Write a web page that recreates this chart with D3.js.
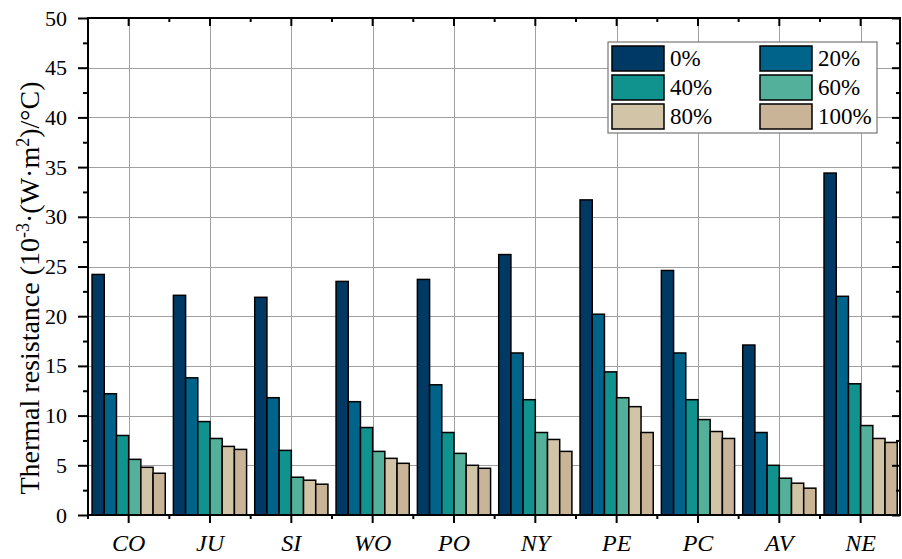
<!DOCTYPE html>
<html>
<head>
<meta charset="utf-8">
<script src="https://cdn.jsdelivr.net/npm/d3@7/dist/d3.min.js"></script>
<style>
  html, body { margin: 0; padding: 0; background: #fff; }
  svg { display: block; }
  svg text { font-family: "Liberation Serif", "Times New Roman", serif; }
</style>
</head>
<body>
<svg id="chart" width="902" height="559"></svg>
<script>
// Thermal resistance per fabric, for each moisture level
const categories = ["CO", "JU", "SI", "WO", "PO", "NY", "PE", "PC", "AV", "NE"];
const seriesNames = ["0%", "20%", "40%", "60%", "80%", "100%"];
const seriesColors = ["#003a64", "#00638a", "#10928f", "#53b09b", "#d1c4a7", "#cab498"];

const s0   = [24.2, 22.1, 21.9, 23.5, 23.7, 26.2, 31.7, 24.6, 17.1, 34.4];
const s20  = [12.2, 13.8, 11.8, 11.4, 13.1, 16.3, 20.2, 16.3,  8.3, 22.0];
const s40  = [ 8.0,  9.4,  6.5,  8.8,  8.3, 11.6, 14.4, 11.6,  5.0, 13.2];
const s60  = [ 5.6,  7.7,  3.8,  6.4,  6.2,  8.3, 11.8,  9.6,  3.7,  9.0];
const s80  = [ 4.8,  6.9,  3.5,  5.7,  5.0,  7.6, 10.9,  8.4,  3.2,  7.7];
const s100 = [ 4.2,  6.6,  3.1,  5.2,  4.7,  6.4,  8.3,  7.7,  2.7,  7.3];
const seriesValues = [s0, s20, s40, s60, s80, s100];

const yTicks = [0, 5, 10, 15, 20, 25, 30, 35, 40, 45, 50];
const yMinorTicks = [2.5, 7.5, 12.5, 17.5, 22.5, 27.5, 32.5, 37.5, 42.5, 47.5];

const FONT = "Liberation Serif";
const svg = d3.select("#chart");
const plotLeft = 88, plotRight = 900, plotTop = 18, plotBottom = 515;

const x0 = d3.scaleBand().domain(categories).range([plotLeft, 901.3]).paddingInner(0.1).paddingOuter(0.05);
const x1 = d3.scaleBand().domain(seriesNames).range([0, x0.bandwidth()]);
const y = d3.scaleLinear().domain([0, 50]).range([plotBottom, plotTop]);

// grid
const grid = svg.append("g").attr("stroke", "#a0a0a0").attr("stroke-width", 1);
grid.selectAll("line.h").data(yTicks.filter(d => d > 0 && d < 50)).join("line")
  .attr("x1", plotLeft).attr("x2", plotRight)
  .attr("y1", d => Math.round(y(d)) + 0.5).attr("y2", d => Math.round(y(d)) + 0.5);
grid.selectAll("line.v").data(categories).join("line")
  .attr("y1", plotTop).attr("y2", plotBottom)
  .attr("x1", d => Math.round(x0(d) + x0.bandwidth() / 2) + 0.5)
  .attr("x2", d => Math.round(x0(d) + x0.bandwidth() / 2) + 0.5);

// bars
const rows = categories.map((c, i) => ({ cat: c, vals: seriesNames.map((s, j) => ({ s, j, v: seriesValues[j][i] })) }));
const groups = svg.append("g").selectAll("g").data(rows).join("g")
  .attr("transform", d => `translate(${x0(d.cat)},0)`);
groups.selectAll("rect").data(d => d.vals).join("rect")
  .attr("x", d => x1(d.s))
  .attr("width", x1.bandwidth())
  .attr("y", d => y(d.v))
  .attr("height", d => y(0) - y(d.v))
  .attr("fill", d => seriesColors[d.j])
  .attr("stroke", "#000").attr("stroke-width", 1.5);

// axes
const centers = categories.map(c => x0(c) + x0.bandwidth() / 2);
const bounds = d3.range(categories.length + 1).map(i => plotLeft + i * x0.step());

const xAxis = d3.axisBottom(x0).tickSize(8).tickSizeOuter(0);
const gx = svg.append("g").attr("transform", `translate(0,${plotBottom})`).call(xAxis);
gx.attr("font-family", FONT);
gx.select(".domain").remove();
gx.selectAll(".tick line").attr("stroke", "#000").attr("stroke-width", 2);
gx.selectAll(".tick text").attr("font-size", 24).attr("font-style", "italic")
  .attr("font-family", FONT).attr("fill", "#000").attr("y", 36).attr("dy", 0);
svg.append("g").selectAll("line").data(bounds.filter(b => b < plotRight)).join("line")
  .attr("x1", d => d).attr("x2", d => d).attr("y1", plotBottom).attr("y2", plotBottom + 4)
  .attr("stroke", "#000").attr("stroke-width", 2);

// top ticks (inward)
const tk = svg.append("g").attr("stroke", "#000").attr("stroke-width", 2);
tk.selectAll("line.c").data(centers).join("line").attr("class", "c")
  .attr("x1", d => d).attr("x2", d => d).attr("y1", plotTop).attr("y2", plotTop + 8);
tk.selectAll("line.b").data(bounds.filter(b => b > plotLeft && b < plotRight)).join("line").attr("class", "b")
  .attr("x1", d => d).attr("x2", d => d).attr("y1", plotTop).attr("y2", plotTop + 4);

const yAxis = d3.axisLeft(y).tickValues(yTicks).tickSize(10).tickPadding(11).tickSizeOuter(0);
const gy = svg.append("g").attr("transform", `translate(${plotLeft},0)`).call(yAxis);
gy.attr("font-family", FONT);
gy.select(".domain").remove();
gy.selectAll(".tick line").attr("stroke", "#000").attr("stroke-width", 2);
gy.selectAll(".tick text").attr("font-size", 22).attr("font-family", FONT).attr("fill", "#000");
const yMinor = d3.axisLeft(y).tickValues(yMinorTicks).tickSize(5).tickFormat("");
const gym = svg.append("g").attr("transform", `translate(${plotLeft},0)`).call(yMinor);
gym.select(".domain").remove();
gym.selectAll(".tick line").attr("stroke", "#000").attr("stroke-width", 2);

// right axis ticks (inward)
const gr = svg.append("g").attr("transform", `translate(${plotRight},0)`)
  .call(d3.axisLeft(y).tickValues(yTicks).tickSize(8).tickFormat(""));
gr.select(".domain").remove();
gr.selectAll(".tick line").attr("stroke", "#000").attr("stroke-width", 2);
const grm = svg.append("g").attr("transform", `translate(${plotRight},0)`)
  .call(d3.axisLeft(y).tickValues(yMinorTicks).tickSize(4).tickFormat(""));
grm.select(".domain").remove();
grm.selectAll(".tick line").attr("stroke", "#000").attr("stroke-width", 2);

// frame
svg.append("rect").attr("x", plotLeft).attr("y", plotTop).attr("width", plotRight - plotLeft).attr("height", plotBottom - plotTop)
  .attr("fill", "none").attr("stroke", "#000").attr("stroke-width", 2);

// y title
const title = svg.append("text")
  .attr("transform", `translate(39,288) rotate(-90)`)
  .attr("text-anchor", "middle").attr("font-size", 28).attr("font-family", FONT).attr("fill", "#000");
title.append("tspan").text("Thermal resistance (10");
title.append("tspan").attr("font-size", 18).attr("baseline-shift", "super").text("-3");
title.append("tspan").text("·(W·m");
title.append("tspan").attr("font-size", 18).attr("baseline-shift", "super").text("2");
title.append("tspan").text(")/°C)");

// legend
const lg = svg.append("g");
lg.append("rect").attr("x", 608).attr("y", 42).attr("width", 269).attr("height", 91)
  .attr("fill", "#fff").attr("stroke", "#777").attr("stroke-width", 1.2);
const items = lg.selectAll("g.item").data(seriesNames).join("g").attr("class", "item")
  .attr("transform", (d, i) => `translate(${612 + (i % 2) * 148},${46 + Math.floor(i / 2) * 29})`);
items.append("rect").attr("width", 52).attr("height", 25)
  .attr("fill", (d, i) => seriesColors[i]).attr("stroke", "#000").attr("stroke-width", 1.5);
items.append("text").attr("x", 58).attr("y", 20).attr("font-size", 23).attr("font-family", FONT)
  .attr("fill", "#000").text(d => d);
</script>
</body>
</html>
